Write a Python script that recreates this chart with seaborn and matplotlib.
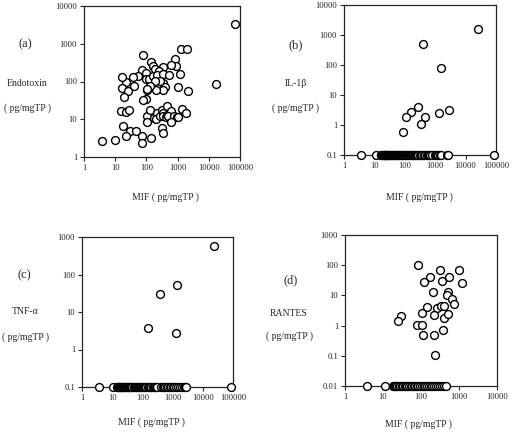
import numpy as np
import pandas as pd
import matplotlib
matplotlib.use("Agg")
import matplotlib.pyplot as plt
import seaborn as sns

# (a) Endotoxin vs MIF
endo_mif = [70000, 17000, 3.7, 10, 76, 1250, 1950, 850, 890, 630, 1200, 1050, 2200,
            140, 160, 190, 330, 250, 70, 95, 55, 98, 124, 166, 213, 350, 540, 350,
            280, 195, 400, 330, 205, 132, 102, 107, 98, 76, 38, 23, 17, 39, 17, 26,
            19, 15.4, 23, 27, 18, 29, 47, 22, 70, 70, 137, 102, 102, 135, 178, 214,
            196, 275, 316, 350, 450, 350, 410, 470, 600, 500, 780, 930, 1400, 1800,
            1050, 600, 316, 350]
endo_val = [3300, 87, 2.6, 2.75, 500, 730, 710, 390, 250, 270, 160, 71, 57,
            320, 265, 213, 235, 190, 204, 166, 141, 118, 120, 138, 150, 154, 150, 90,
            105, 102, 71, 58, 60, 74, 58, 63, 34, 32, 130, 96, 130, 78, 66, 55,
            40, 17, 15.5, 18, 6.5, 5, 5, 3.5, 3.5, 2.4, 3.2, 12, 8.3, 18, 11, 15,
            10, 12.5, 18, 14.5, 23, 12, 11.5, 13, 16.5, 12.5, 12.5, 11.5, 19, 14.5,
            11.2, 8.3, 6, 4.3]

# (b) IL-1beta vs MIF (undetectable values plotted at 0.1)
il1_mif = [26000, 390, 1580, 265, 165, 107, 445, 350, 1350, 2900, 85]
il1_val = [1600, 490, 81, 3.9, 2.7, 1.8, 1.8, 1.07, 2.5, 3.2, 0.59]
il1_floor_mif = [3.6, 11, 16, 17, 18, 19, 20, 21, 22, 23, 24, 25, 26, 27, 28, 30, 32,
                 34, 35, 38, 40, 43, 46, 48, 50, 54, 58, 62, 66, 70, 75, 80, 84, 88,
                 95, 102, 110, 118, 125, 135, 145, 160, 175, 190, 205, 220, 240, 260,
                 280, 310, 340, 380, 420, 470, 520, 580, 640, 700, 760, 1000, 1050,
                 1120, 1200, 1400, 1500, 2400, 2600, 85000]

# (c) TNF-alpha vs MIF
tnf_mif = [23000, 1450, 370, 148, 1250]
tnf_val = [590, 54, 30, 3.7, 2.8]
tnf_floor_mif = [3.6, 10.5, 14, 15, 16, 17, 18, 19, 20, 21, 22, 23, 25, 27, 29, 31, 33,
                 34, 37, 40, 43, 47, 51, 55, 60, 65, 70, 76, 82, 90, 98, 105, 115, 125,
                 135, 150, 165, 180, 200, 220, 240, 260, 280, 300, 420, 470, 520, 580,
                 640, 700, 800, 900, 1000, 1100, 1300, 1500, 1700, 2000, 2300, 2600,
                 2800, 85000]

# (d) RANTES vs MIF
ran_mif = [85, 325, 990, 177, 530, 117, 355, 1200, 205, 500, 480, 660, 730, 144, 260,
           345, 400, 107, 220, 400, 500, 30, 25, 77, 107, 110, 220, 390, 230]
ran_val = [105, 69, 69, 41, 40, 27, 29, 25, 13, 13, 10, 7.8, 5.1, 4.0, 3.8, 4.3, 4.3,
           2.7, 2.3, 1.8, 2.4, 2.1, 1.4, 1.07, 1.07, 0.5, 0.5, 0.7, 0.105]
ran_floor_mif = [3.7, 11, 18, 19, 20, 21, 22, 24, 26, 28, 31, 34, 37, 40, 44, 48, 53,
                 58, 64, 70, 77, 85, 95, 105, 118, 130, 145, 160, 180, 200, 225, 250,
                 280, 310, 350, 400, 450]

sns.set_style("ticks")
plt.rcParams['font.family'] = ['Liberation Serif', 'DejaVu Serif']

W, H = 513, 438
fig = plt.figure(figsize=(W / 100, H / 100), dpi=100)


def px_axes(x0, y0, x1, y1):
    return fig.add_axes([x0 / W, 1 - y1 / H, (x1 - x0) / W, (y1 - y0) / H])


def fmt(v):
    return ('%g' % v) if v < 1 else '%d' % v


def panel(ax, xs, ys, xlim, ylim):
    df = pd.DataFrame({'x': xs, 'y': ys})
    sns.scatterplot(data=df, x='x', y='y', ax=ax, s=32, marker='o',
                    facecolor='white', edgecolor='black', linewidth=1.0,
                    clip_on=False, zorder=3)
    ax.set_xscale('log')
    ax.set_yscale('log')
    ax.set_xlim(*xlim)
    ax.set_ylim(*ylim)
    xt = [10.0 ** k for k in range(int(round(np.log10(xlim[0]))), int(round(np.log10(xlim[1]))) + 1)]
    yt = [10.0 ** k for k in range(int(round(np.log10(ylim[0]))), int(round(np.log10(ylim[1]))) + 1)]
    ax.set_xticks(xt)
    ax.set_xticklabels([fmt(v) for v in xt])
    ax.set_yticks(yt)
    ax.set_yticklabels([fmt(v) for v in yt])
    ax.minorticks_off()
    ax.tick_params(direction='out', length=3, width=0.8, labelsize=6.2, pad=2)
    for sp in ax.spines.values():
        sp.set_linewidth(0.9)
    ax.set_xlabel('')
    ax.set_ylabel('')


ax_a = px_axes(84, 6, 240, 157)
panel(ax_a, endo_mif, endo_val, (1, 100000), (1, 10000))

ax_b = px_axes(344, 5, 496, 155)
panel(ax_b, il1_mif + il1_floor_mif, il1_val + [0.1] * len(il1_floor_mif),
      (1, 100000), (0.1, 10000))

ax_c = px_axes(82, 237, 233, 387)
panel(ax_c, tnf_mif + tnf_floor_mif, tnf_val + [0.1] * len(tnf_floor_mif),
      (1, 100000), (0.1, 1000))

ax_d = px_axes(345, 235, 497, 386)
panel(ax_d, ran_mif + ran_floor_mif, ran_val + [0.01] * len(ran_floor_mif),
      (1, 10000), (0.01, 1000))


def label(x, y, s, size=7):
    fig.text(x / W, 1 - y / H, s, ha='center', va='center', fontsize=size)


label(25, 44, '(a)', 9)
label(27, 83, 'Endotoxin')
label(27, 108, '( pg/mgTP )')
label(165, 197, 'MIF ( pg/mgTP )')

label(296, 45, '(b)', 9)
label(296, 83, 'IL-1β')
label(296, 108, '( pg/mgTP )')
label(419, 197, 'MIF ( pg/mgTP )')

label(24, 275, '(c)', 9)
label(25, 312, 'TNF-α')
label(25, 337, '( pg/mgTP )')
label(151, 422, 'MIF ( pg/mgTP )')

label(291, 280, '(d)', 9)
label(289, 313, 'RANTES')
label(289, 336, '( pg/mgTP )')
label(418, 424, 'MIF ( pg/mgTP )')

fig.savefig('out.png', dpi=100)
